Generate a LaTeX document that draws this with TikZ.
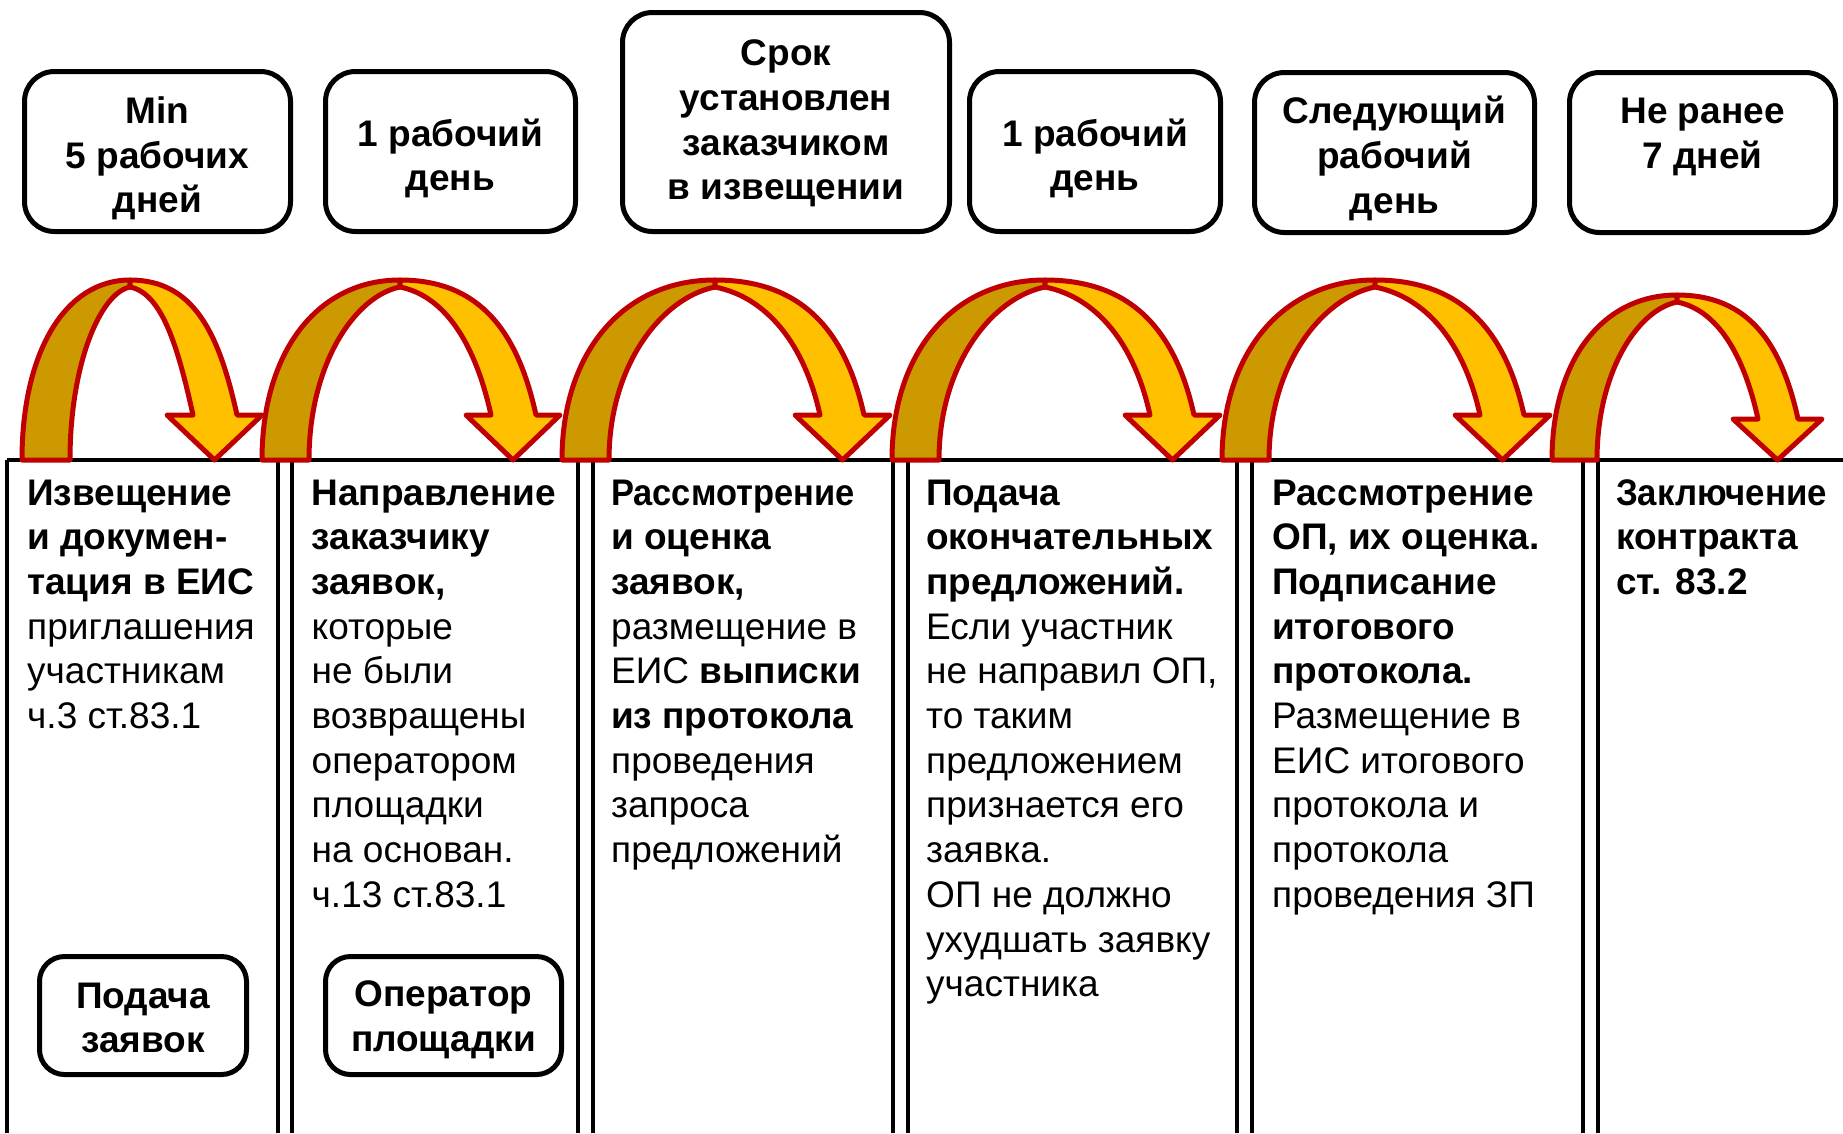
\documentclass[tikz,border=0pt]{standalone}
\usepackage{graphicx}
\usepackage{fontspec}
\setmainfont{Liberation Sans}
\definecolor{darkgold}{RGB}{204,153,0}
\definecolor{brightgold}{RGB}{255,192,0}
\definecolor{arrowred}{RGB}{192,0,0}
\newcommand\coltxt[1]{\parbox[t]{420pt}{\raggedright #1}}
% #1 outer foot x, #2 inner foot x, #3 apex x, #4 shaft inner x, #5 shaft outer x,
% #6 head left x, #7 head right x, #8 top y, #9 head base y
\newcommand\goldarrow[9]{%
 \pgfmathsetmacro\topi{#8+7}%
 \pgfmathsetmacro\tipx{(#6+#7)/2}%
 \pgfmathsetmacro\doy{460-0.6*(460-#8)}%
 \pgfmathsetmacro\dox{#3-0.6*(#3-#1)}%
 \pgfmathsetmacro\diy{460-0.55*(460-\topi)}%
 \pgfmathsetmacro\dix{#3-0.5*(#3-#2)}%
 \pgfmathsetmacro\diyy{\topi+0.1*(#3-#2)}%
 \pgfmathsetmacro\lox{#3+0.6*(#5-#3)}%
 \pgfmathsetmacro\loy{#9-0.6*(#9-#8)}%
 \pgfmathsetmacro\loxx{#5-0.22*(#9-\loy)}%
 \pgfmathsetmacro\lix{#3+0.5*(#4-#3)}%
 \pgfmathsetmacro\liyy{\topi+0.1*(#4-#3)}%
 \pgfmathsetmacro\liy{#9-0.55*(#9-\topi)}%
 \pgfmathsetmacro\lixx{#4-0.22*(#9-\liy)}%
 \filldraw[arrowpart, fill=darkgold] (#1,460) .. controls (#1,\doy) and (\dox,#8) .. (#3,#8) -- (#3,\topi) .. controls (\dix,\diyy) and (#2,\diy) .. (#2,460) -- cycle;
 \filldraw[arrowpart, fill=brightgold] (#3,#8) .. controls (\lox,#8) and (\loxx,\loy) .. (#5,#9) -- (#7,#9) -- (\tipx,460) -- (#6,#9) -- (#4,#9) .. controls (\lixx,\liy) and (\lix,\liyy) .. (#3,\topi) -- cycle;
}
\tikzset{
  topbox/.style={draw=black, line width=5pt, rounded corners=30pt, inner sep=0pt},
  boxtext/.style={align=center, font=\fontsize{37}{44.7}\selectfont\bfseries, inner sep=0pt},
  botbox/.style={draw=black, line width=5pt, rounded corners=25pt, inner sep=0pt},
  colline/.style={draw=black, line width=4pt, line join=miter},
  arrowpart/.style={draw=arrowred, line width=5pt, line join=round},
  coltext/.style={anchor=base west, inner sep=0pt, font=\fontsize{37}{44.7}\selectfont}
}
\begin{document}
\begin{tikzpicture}[x=1pt, y=-1pt]
\useasboundingbox (0,0) rectangle (1843,1133);
\fill[white] (0,0) rectangle (1843,1133);

% top duration boxes
\node[topbox, minimum width=266pt, minimum height=160pt] (t1) at (157.5,151.5) {};
\node[boxtext] (t1t) at (157.5,158.5) {Min\\5 рабочих\\дней};
\node[topbox, minimum width=250pt, minimum height=160pt] (t2) at (450.5,151.5) {};
\node[boxtext] (t2t) at (450.5,158.5) {1 рабочий\\день};
\node[topbox, minimum width=327pt, minimum height=219pt] (t3) at (786,122) {};
\node[boxtext] (t3t) at (786,123.5) {Срок\\установлен\\заказчиком\\в извещении};
\node[topbox, minimum width=251pt, minimum height=160pt] (t4) at (1095,151.5) {};
\node[boxtext] (t4t) at (1095,158.5) {1 рабочий\\день};
\node[topbox, minimum width=280pt, minimum height=160pt] (t5) at (1394.5,152.5) {};
\node[boxtext] (t5t) at (1394.5,158.5) {Следующий\\рабочий\\день};
\node[topbox, minimum width=266pt, minimum height=160pt] (t6) at (1702.5,152.5) {};
\node[boxtext, anchor=north] (t6t) at (1702.5,98) {Не ранее\\7 дней};

% columns
\draw[colline] (7,460) -- (1843,460);
\foreach \xa/\xb in {7/278, 292/578, 593/893, 908/1237, 1252/1583} {
  \draw[colline] (\xa,1133) -- (\xa,460);
  \draw[colline] (\xb,1133) -- (\xb,460);
}
\draw[colline] (1598,1133) -- (1598,460);

% arrows
\goldarrow{22}{70}{130}{193}{237}{167}{262}{280}{415}
\goldarrow{262}{309}{400}{491}{536}{466}{560}{280}{415}
\goldarrow{562}{609}{715}{820}{864}{795}{890}{280}{415}
\goldarrow{892}{939}{1045}{1150}{1194}{1125}{1220}{280}{415}
\goldarrow{1222}{1269}{1375}{1480}{1524}{1455}{1550}{280}{415}
\goldarrow{1552}{1597}{1677}{1758}{1798}{1733}{1822}{295}{419}

% column texts
\node[coltext] (c1) at (27,505) {\coltxt{{\bfseries Извещение\\и докумен-\\тация в ЕИС}\\приглашения\\участникам\\ч.3 ст.83.1}};
\node[coltext] (c2) at (311.5,505) {\coltxt{{\bfseries Направление\\заказчику\\заявок,}\\которые\\не были\\возвращены\\оператором\\площадки\\на основан.\\ч.13 ст.83.1}};
\node[coltext] (c3) at (611,505) {\coltxt{{\bfseries \scalebox{0.93}[1]{Рассмотрение}\\и оценка\\заявок,}\\размещение в\\ЕИС {\bfseries выписки\\из протокола}\\проведения\\запроса\\предложений}};
\node[coltext] (c4) at (926,505) {\coltxt{{\bfseries Подача\\окончательных\\предложений.}\\Если участник\\не направил ОП,\\то таким\\предложением\\признается его\\заявка.\\ОП не должно\\ухудшать заявку\\участника}};
\node[coltext] (c5) at (1272,505) {\coltxt{{\bfseries Рассмотрение\\ОП, их оценка.\\Подписание\\итогового\\протокола.}\\Размещение в\\ЕИС итогового\\протокола и\\протокола\\проведения ЗП}};
\node[coltext] (c6) at (1616,505) {\coltxt{{\bfseries \scalebox{0.94}[1]{Заключение}\\контракта\\ст. 83.2}}};

% bottom boxes
\node[botbox, minimum width=207pt, minimum height=118pt] (b1) at (143,1015.5) {};
\node[boxtext] (b1t) at (143,1018) {Подача\\заявок};
\node[botbox, minimum width=236pt, minimum height=118pt] (b2) at (443.5,1015.5) {};
\node[boxtext] (b2t) at (443.5,1020) {Оператор\\площадки};
\end{tikzpicture}
\end{document}
